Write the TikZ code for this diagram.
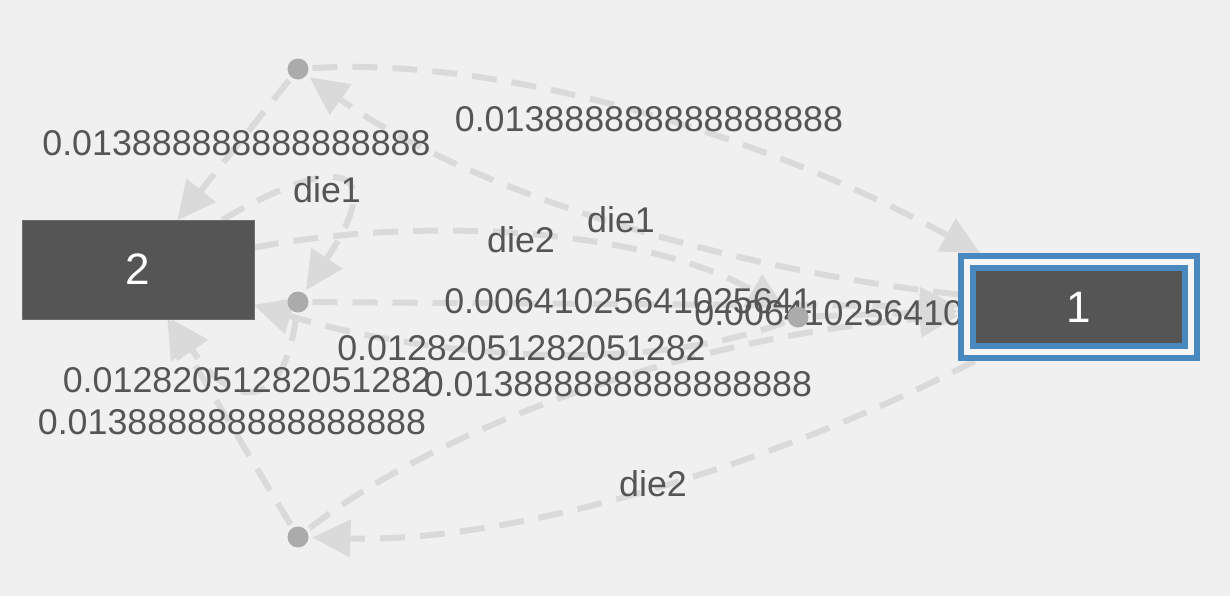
\documentclass[tikz,border=0pt]{standalone}
\usepackage{fontspec}
\setmainfont{Liberation Sans}
\usetikzlibrary{arrows.meta}
\pgfdeclarelayer{back}
\pgfdeclarelayer{edges}
\pgfdeclarelayer{labels}
\pgfsetlayers{back,edges,labels,main}
\definecolor{bgc}{HTML}{F0F0F0}
\definecolor{edgec}{HTML}{DADADA}
\definecolor{dotc}{HTML}{ABABAB}
\definecolor{boxc}{HTML}{555555}
\definecolor{boxline}{HTML}{6E6E6E}
\definecolor{labc}{HTML}{555555}
\definecolor{bluec}{HTML}{4A89C0}
\definecolor{gapc}{HTML}{F3F5F7}
\tikzset{
  edge/.style={draw=edgec, line width=3pt, dash pattern=on 12.5pt off 7.5pt,
    -{Triangle[length=19pt,width=19pt,line width=0pt]}},
  lab/.style={text=labc, font=\fontsize{17.9pt}{20pt}\selectfont, inner sep=0pt},
  dot/.style={circle, fill=dotc, minimum size=10.5pt, inner sep=0pt, outer sep=2pt},
  statebox/.style={rectangle, fill=boxc, text=white, font=\fontsize{22pt}{26pt}\selectfont, inner sep=0pt},
}
\begin{document}
\begin{tikzpicture}[x=0.5pt,y=-0.5pt]
\begin{pgfonlayer}{back}
\fill[bgc] (0,0) rectangle (1230,596);
\end{pgfonlayer}
\useasboundingbox (0,0) rectangle (1230,596);
% nodes
\node[statebox, minimum width=116pt, minimum height=49.5pt, draw=boxline, line width=0.5pt, outer sep=0pt] (s2) at (138,269.5) {2};
\node[statebox, minimum width=112pt, minimum height=45pt, draw=bluec, double=gapc, line width=3pt, double distance=3pt, outer sep=4.5pt] (s1) at (1079,307) {1};
\node[dot] (a) at (298,69) {};
\node[dot] (b) at (298,302) {};
\node[dot] (c) at (298,537) {};
\node[dot] (d) at (798,317) {};
% edges
\begin{pgfonlayer}{edges}
\draw[edge] (a) -- (s2);
\draw[edge] (a) .. controls (504,56.3) and (764.7,135.7) .. (s1);
\draw[edge] (s1) .. controls (728.7,270.3) and (468,191) .. (a);
\draw[edge] (s2) .. controls (336.7,152.6) and (390,163.5) .. (b);
\draw[edge] (s2) .. controls (428.7,214.4) and (648.7,230.2) .. (d);
\draw[edge] (b) -- (s1);
\draw[edge] (d) -- (s1);
\draw[edge] (d) .. controls (648.7,374.2) and (428.7,358.4) .. (s2);
\draw[edge] (b) .. controls (283.3,416.8) and (230,406) .. (s2);
\draw[edge] (c) -- (s2);
\draw[edge] (c) .. controls (464.3,409.7) and (724.7,333) .. (s1);
\draw[edge] (s1) .. controls (771.3,466.3) and (511,543) .. (c);
\end{pgfonlayer}
% labels
\begin{pgfonlayer}{labels}
\node[lab] (l1) at (236.5,143) {0.013888888888888888};
\node[lab] (l2) at (649,119) {0.013888888888888888};
\node[lab] (l3) at (327,190) {die1};
\node[lab] (l4) at (621,220) {die1};
\node[lab] (l5) at (521,240) {die2};
\node[lab] (l6) at (628.5,301) {0.00641025641025641};
\node[lab] (l7) at (878.5,313) {0.00641025641025641};
\node[lab] (l8) at (521.5,348) {0.01282051282051282};
\node[lab] (l9) at (247,380) {0.01282051282051282};
\node[lab] (l10) at (618,384) {0.013888888888888888};
\node[lab] (l11) at (232,422) {0.013888888888888888};
\node[lab] (l12) at (653,484) {die2};
\end{pgfonlayer}
\end{tikzpicture}
\end{document}
